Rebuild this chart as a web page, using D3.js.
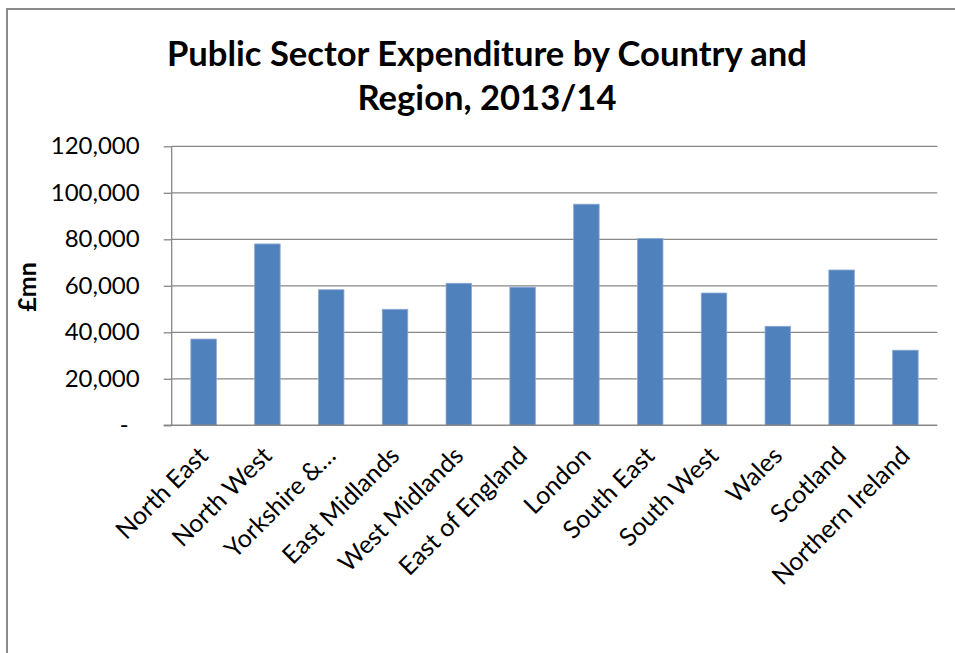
<!DOCTYPE html>
<html>
<head>
<meta charset="utf-8">
<script src="https://cdn.jsdelivr.net/npm/d3@7"></script>
<style>
  html, body { margin: 0; padding: 0; background: #fff; }
  svg { display: block; }
</style>
</head>
<body>
<svg id="chart" width="955" height="653"></svg>
<script>
const titleLines = ["Public Sector Expenditure by Country and", "Region, 2013/14"];
const yAxisTitle = "£mn";
const categories = ["North East", "North West", "Yorkshire &…", "East Midlands", "West Midlands",
  "East of England", "London", "South East", "South West", "Wales", "Scotland", "Northern Ireland"];
const values = [37100, 78000, 58300, 49900, 61100, 59400, 95100, 80300, 56900, 42600, 66800, 32300];
const yTicks = [0, 20000, 40000, 60000, 80000, 100000, 120000];

const W = 955, H = 653;
const plot = { left: 171.7, right: 937.3, top: 146.3, bottom: 425.3 };
const gridColor = "#878787";
const barColor = "#4F81BD";
const labelFont = "Lato, 'Noto Sans', sans-serif";

const svg = d3.select("#chart");
svg.append("rect").attr("width", W).attr("height", H).attr("fill", "#fff");

// chart frame (partially cropped)
svg.append("path")
  .attr("d", `M7,${H} V9 H${W}`)
  .attr("fill", "none").attr("stroke", "#8a8a8a").attr("stroke-width", 2);

const x = d3.scaleBand().domain(categories)
  .range([plot.left, plot.right]).paddingInner(0.6).paddingOuter(0.3);
const y = d3.scaleLinear().domain([0, 120000]).range([plot.bottom, plot.top]);

// gridlines
svg.append("g").selectAll("line").data(yTicks.filter(d => d > 0)).join("line")
  .attr("x1", plot.left).attr("x2", plot.right)
  .attr("y1", d => y(d)).attr("y2", d => y(d))
  .attr("stroke", gridColor).attr("stroke-width", 1.3);

// bars
svg.append("g").selectAll("rect").data(values).join("rect")
  .attr("x", (d, i) => x(categories[i]))
  .attr("width", x.bandwidth())
  .attr("y", d => y(d))
  .attr("height", d => y(0) - y(d))
  .attr("fill", barColor)
  .attr("stroke", "#8eaad3").attr("stroke-width", 0.8);

// y axis
const fmt = d3.format(",");
const yAxis = d3.axisLeft(y).tickValues(yTicks)
  .tickSize(8).tickPadding(24)
  .tickFormat(d => d === 0 ? "-" : fmt(d));
const gy = svg.append("g").attr("transform", `translate(${plot.left},0)`).call(yAxis);
gy.select(".domain").remove();
gy.append("line").attr("x1", 0).attr("x2", 0).attr("y1", plot.top).attr("y2", plot.bottom)
  .attr("stroke", gridColor).attr("stroke-width", 1.3);
gy.selectAll(".tick line").attr("stroke", gridColor).attr("stroke-width", 1.3);
gy.selectAll(".tick text")
  .attr("font-family", labelFont).attr("font-size", 24).attr("fill", "#000")
  .attr("dx", d => d === 0 ? -11 : 0);

// x axis baseline
svg.append("line")
  .attr("x1", plot.left - 8).attr("x2", plot.right)
  .attr("y1", plot.bottom).attr("y2", plot.bottom)
  .attr("stroke", gridColor).attr("stroke-width", 1.5);

// x labels (rotated -45)
svg.append("g").selectAll("text").data(categories).join("text")
  .attr("transform", d => `translate(${x(d) + x.bandwidth() / 2 + 6},${plot.bottom + 32}) rotate(-45)`)
  .attr("text-anchor", "end")
  .attr("font-family", labelFont).attr("font-size", 25).attr("fill", "#000")
  .text(d => d);

// y axis title
svg.append("text")
  .attr("transform", `translate(36,287) rotate(-90)`)
  .attr("text-anchor", "middle")
  .attr("font-family", labelFont).attr("font-weight", "bold").attr("font-size", 25)
  .text(yAxisTitle);

// title
const title = svg.append("text")
  .attr("text-anchor", "middle")
  .attr("font-family", labelFont).attr("font-weight", "bold").attr("font-size", 33).attr("fill", "#000");
title.selectAll("tspan").data(titleLines).join("tspan")
  .attr("x", 487).attr("y", (d, i) => 66 + i * 44)
  .text(d => d);
// fit title width to the reference's first-line width
const w0 = title.select("tspan").node().getComputedTextLength();
if (w0 > 0) title.attr("font-size", 33 * 640 / w0);
</script>
</body>
</html>
